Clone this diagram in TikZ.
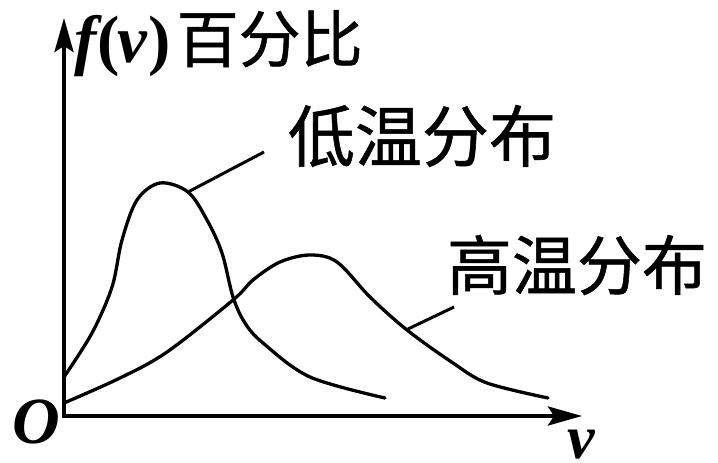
\documentclass[tikz,border=0pt]{standalone}
\usepackage{fontspec}
\usetikzlibrary{arrows.meta}
\newfontfamily\cjk[FakeBold=0.8]{Noto Sans CJK SC}
\newfontfamily\lat{Liberation Serif}
\tikzset{
  axisline/.style={line width=4pt,-{Stealth[length=34pt,width=19pt,inset=6pt]}},
  curveline/.style={line width=3.3pt,line join=round,line cap=round},
  leader/.style={line width=3pt},
  lbl/.style={inner sep=0pt,outer sep=0pt}
}
\begin{document}
\begin{tikzpicture}[x=1pt,y=-1pt]
\useasboundingbox (0,0) rectangle (718,463);
\coordinate (o) at (64,416);
\coordinate (ytip) at (64,18);
\coordinate (xtip) at (582,416);
\draw[axisline] ([yshift=-2pt]o) -- (ytip);
\draw[axisline] ([xshift=-2pt]o) -- (xtip);
% low temperature curve
\draw[curveline] plot[smooth,tension=0.55] coordinates {
 (64,377) (92,333) (112,287) (122,240) (137,200) (160,183) (188,192)
 (207,220) (222,253) (233,297) (245,323) (263,343) (310,377) (385,398)};
% high temperature curve
\draw[curveline] plot[smooth,tension=0.55] coordinates {
 (64,403) (120,378) (167,352) (233,300) (253,280) (280,262) (310,255)
 (337,262) (370,297) (407,330) (453,363) (487,383) (548,398)};
\coordinate (lowpt) at (188,192);
\coordinate (lowend) at (264,152);
\coordinate (highpt) at (408,329);
\coordinate (highend) at (454,307);
\draw[leader] (lowpt) -- (lowend);
\draw[leader] (highpt) -- (highend);
\node[lbl,anchor=base west] (ylabel) at (74,62) {{\fontsize{67}{70}\selectfont\lat\bfseries{\itshape f}\kern1pt(\kern-2pt{\itshape v}\kern1pt)}\kern6pt{\fontsize{62}{66}\selectfont\cjk 百分比}};
\node[lbl] (lowlbl) at (422,136) {\fontsize{67}{70}\selectfont\cjk 低温分布};
\node[lbl] (highlbl) at (577,265) {\fontsize{65}{68}\selectfont\cjk 高温分布};
\node[lbl] (olbl) at (36,422) {\fontsize{66}{70}\selectfont\lat\bfseries\itshape O};
\node[lbl,anchor=base] (vlbl) at (581,458) {\fontsize{62}{66}\selectfont\lat\bfseries\itshape v};
\end{tikzpicture}
\end{document}
